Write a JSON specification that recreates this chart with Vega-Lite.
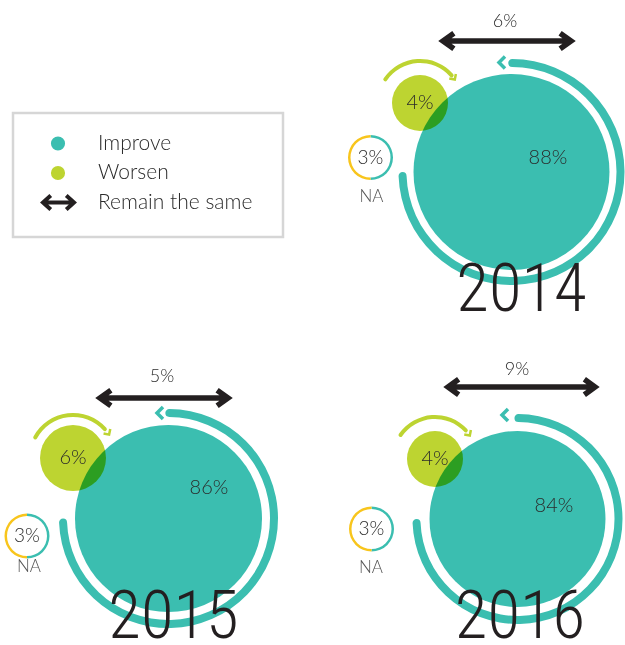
{
  "$schema": "https://vega.github.io/schema/vega-lite/v6.json",
  "padding": 0,
  "background": "white",
  "config": {"view": {"stroke": null}},
  "datasets": {
    "results": [
      {"year": "2014", "improve": 0.88, "worsen": 0.04, "same": 0.06, "na": 0.03},
      {"year": "2015", "improve": 0.86, "worsen": 0.06, "same": 0.05, "na": 0.03},
      {"year": "2016", "improve": 0.84, "worsen": 0.04, "same": 0.09, "na": 0.03}
    ],
    "legend": [
      {"item": "Improve"},
      {"item": "Worsen"},
      {"item": "Remain the same"}
    ]
  },
  "spacing": 0,
  "vconcat": [
    {
      "spacing": 0,
      "hconcat": [
        {
          "width": 340,
          "height": 345,
          "data": {"name": "legend"},
          "layer": [
            {
              "transform": [{"filter": {"field": "item", "equal": "Improve"}}],
              "mark": {"type": "point", "shape": "M-1,-0.4593L1,-0.4593L1,0.4593L-1,0.4593Z", "size": 72900, "filled": false, "stroke": "#d6d6d6", "strokeWidth": 2.5, "opacity": 1, "xOffset": -22, "yOffset": 2.5},
              "encoding": {}
            },
            {
              "transform": [{"filter": {"field": "item", "oneOf": ["Improve", "Worsen"]}}],
              "mark": {"type": "point", "shape": "circle", "filled": true, "size": 200, "opacity": 1, "xOffset": -112},
              "encoding": {
                "y": {"field": "item", "type": "nominal", "scale": {"domain": ["Improve", "Worsen", "Remain the same"], "range": [143.5, 202.5], "padding": 0}, "axis": null},
                "color": {"field": "item", "type": "nominal", "scale": {"domain": ["Improve", "Worsen"], "range": ["#3bbeb0", "#bdd431"]}, "legend": null}
              }
            },
            {
              "transform": [{"filter": {"field": "item", "equal": "Remain the same"}}],
              "mark": {"type": "point", "shape": "M-0.9,0L0.9,0M-0.5,-0.45L-1,0L-0.5,0.45M0.5,-0.45L1,0L0.5,0.45", "size": 961, "filled": false, "stroke": "#231f20", "strokeWidth": 4, "strokeJoin": "miter", "opacity": 1, "xOffset": -111.5},
              "encoding": {
                "y": {"field": "item", "type": "nominal", "scale": {"domain": ["Improve", "Worsen", "Remain the same"], "range": [143.5, 202.5], "padding": 0}, "axis": null}
              }
            },
            {
              "mark": {"type": "text", "align": "left", "baseline": "middle", "dx": -72, "font": "Lato", "fontWeight": 300, "fontSize": 21, "color": "#2b2b2b"},
              "encoding": {
                "y": {"field": "item", "type": "nominal", "scale": {"domain": ["Improve", "Worsen", "Remain the same"], "range": [143.5, 202.5], "padding": 0}, "axis": null},
                "text": {"field": "item"}
              }
            }
          ]
        },
        {
          "width": 285,
          "height": 345,
          "data": {"name": "results"},
          "transform": [{"filter": {"field": "year", "equal": "2014"}}],
          "layer": [
            {"mark": {"type": "arc", "color": "#3bbeb0", "outerRadius": 113, "innerRadius": 105, "theta": -0.03, "theta2": 4.712, "cornerRadius": 4, "xOffset": 29, "yOffset": -0.5}, "encoding": {}},
            {"mark": {"type": "arc", "color": "#3bbeb0", "outerRadius": 98, "theta": 0, "theta2": 6.2832, "xOffset": 29, "yOffset": -0.5}, "encoding": {}},
            {"mark": {"type": "point", "shape": "M1,-1L0,0L1,1", "size": 144, "filled": false, "stroke": "#3bbeb0", "strokeWidth": 3.5, "strokeJoin": "miter", "opacity": 1, "xOffset": 16.5, "yOffset": -110}, "encoding": {}},
            {"mark": {"type": "arc", "color": "#bdd431", "outerRadius": 28, "theta": 0, "theta2": 6.2832, "blend": "multiply", "xOffset": -62.5, "yOffset": -69.5}, "encoding": {}},
            {"mark": {"type": "arc", "color": "#bdd431", "outerRadius": 44, "innerRadius": 40, "theta": -1.02, "theta2": 0.9, "cornerRadius": 2, "xOffset": -62.5, "yOffset": -69.5}, "encoding": {}},
            {"mark": {"type": "point", "shape": "M-1,-1L0,0L-1,1", "size": 64, "angle": 56, "filled": false, "stroke": "#bdd431", "strokeWidth": 2.5, "opacity": 1, "xOffset": -27.7, "yOffset": -93}, "encoding": {}},
            {"mark": {"type": "arc", "color": "#3bbeb0", "outerRadius": 22.5, "innerRadius": 20, "theta": 0, "theta2": 3.1416, "xOffset": -112, "yOffset": -15}, "encoding": {}},
            {"mark": {"type": "arc", "color": "#f8c51c", "outerRadius": 22.5, "innerRadius": 20, "theta": 3.1416, "theta2": 6.2832, "xOffset": -112, "yOffset": -15}, "encoding": {}},
            {"mark": {"type": "point", "shape": "M-0.97,0L0.97,0M-0.83,-0.12L-1,0L-0.83,0.12M0.83,-0.12L1,0L0.83,0.12", "size": 16384, "filled": false, "stroke": "#231f20", "strokeWidth": 5.5, "strokeJoin": "miter", "opacity": 1, "xOffset": 24.5, "yOffset": -131.5}, "encoding": {}},
            {"mark": {"type": "text", "baseline": "middle", "font": "Lato", "fontWeight": 300, "fontSize": 18, "color": "#2b2b2b", "dx": 22.5, "dy": -150.5}, "encoding": {"text": {"field": "same", "type": "quantitative", "format": ".0%"}}},
            {"mark": {"type": "text", "baseline": "middle", "font": "Lato", "fontWeight": 300, "fontSize": 20, "color": "#2b2b2b", "dx": 65.5, "dy": -14.5}, "encoding": {"text": {"field": "improve", "type": "quantitative", "format": ".0%"}}},
            {"mark": {"type": "text", "baseline": "middle", "font": "Lato", "fontWeight": 300, "fontSize": 20, "color": "#2b2b2b", "dx": -62.5, "dy": -69.5}, "encoding": {"text": {"field": "worsen", "type": "quantitative", "format": ".0%"}}},
            {"mark": {"type": "text", "baseline": "middle", "font": "Lato", "fontWeight": 300, "fontSize": 19, "color": "#2b2b2b", "dx": -112, "dy": -15}, "encoding": {"text": {"field": "na", "type": "quantitative", "format": ".0%"}}},
            {"mark": {"type": "text", "baseline": "middle", "font": "Lato", "fontWeight": 300, "fontSize": 17, "color": "#555555", "dx": -111, "dy": 24.5}, "encoding": {"text": {"value": "NA"}}},
            {"mark": {"type": "text", "baseline": "alphabetic", "font": "'Roboto Condensed', 'Open Sans Condensed', 'Liberation Sans Narrow', 'DejaVu Sans Condensed', sans-serif", "fontWeight": 300, "fontSize": 67, "color": "#231f20", "dx": 39, "dy": 138.5}, "encoding": {"text": {"field": "year"}}}
          ]
        }
      ]
    },
    {
      "spacing": 0,
      "hconcat": [
        {
          "width": 340,
          "height": 300,
          "data": {"name": "results"},
          "transform": [{"filter": {"field": "year", "equal": "2015"}}],
          "layer": [
            {"mark": {"type": "arc", "color": "#3bbeb0", "outerRadius": 109.5, "innerRadius": 101.5, "theta": -0.03, "theta2": 4.712, "cornerRadius": 4, "xOffset": -1.5, "yOffset": 23.5}, "encoding": {}},
            {"mark": {"type": "arc", "color": "#3bbeb0", "outerRadius": 93.5, "theta": 0, "theta2": 6.2832, "xOffset": -1.5, "yOffset": 23.5}, "encoding": {}},
            {"mark": {"type": "point", "shape": "M1,-1L0,0L1,1", "size": 144, "filled": false, "stroke": "#3bbeb0", "strokeWidth": 3.5, "strokeJoin": "miter", "opacity": 1, "xOffset": -13, "yOffset": -82}, "encoding": {}},
            {"mark": {"type": "arc", "color": "#bdd431", "outerRadius": 33, "theta": 0, "theta2": 6.2832, "blend": "multiply", "xOffset": -97, "yOffset": -37}, "encoding": {}},
            {"mark": {"type": "arc", "color": "#bdd431", "outerRadius": 45, "innerRadius": 41, "theta": -1.12, "theta2": 0.88, "cornerRadius": 2, "xOffset": -97, "yOffset": -37}, "encoding": {}},
            {"mark": {"type": "point", "shape": "M-1,-1L0,0L-1,1", "size": 64, "angle": 57, "filled": false, "stroke": "#bdd431", "strokeWidth": 2.5, "opacity": 1, "xOffset": -60.9, "yOffset": -60.4}, "encoding": {}},
            {"mark": {"type": "arc", "color": "#3bbeb0", "outerRadius": 22.5, "innerRadius": 20, "theta": 0, "theta2": 3.1416, "xOffset": -143, "yOffset": 41}, "encoding": {}},
            {"mark": {"type": "arc", "color": "#f8c51c", "outerRadius": 22.5, "innerRadius": 20, "theta": 3.1416, "theta2": 6.2832, "xOffset": -143, "yOffset": 41}, "encoding": {}},
            {"mark": {"type": "point", "shape": "M-0.97,0L0.97,0M-0.83,-0.12L-1,0L-0.83,0.12M0.83,-0.12L1,0L0.83,0.12", "size": 16384, "filled": false, "stroke": "#231f20", "strokeWidth": 5.5, "strokeJoin": "miter", "opacity": 1, "xOffset": -6, "yOffset": -97}, "encoding": {}},
            {"mark": {"type": "text", "baseline": "middle", "font": "Lato", "fontWeight": 300, "fontSize": 18, "color": "#2b2b2b", "dx": -8, "dy": -118}, "encoding": {"text": {"field": "same", "type": "quantitative", "format": ".0%"}}},
            {"mark": {"type": "text", "baseline": "middle", "font": "Lato", "fontWeight": 300, "fontSize": 20, "color": "#2b2b2b", "dx": 39, "dy": -7}, "encoding": {"text": {"field": "improve", "type": "quantitative", "format": ".0%"}}},
            {"mark": {"type": "text", "baseline": "middle", "font": "Lato", "fontWeight": 300, "fontSize": 20, "color": "#2b2b2b", "dx": -97, "dy": -37}, "encoding": {"text": {"field": "worsen", "type": "quantitative", "format": ".0%"}}},
            {"mark": {"type": "text", "baseline": "middle", "font": "Lato", "fontWeight": 300, "fontSize": 19, "color": "#2b2b2b", "dx": -143, "dy": 41}, "encoding": {"text": {"field": "na", "type": "quantitative", "format": ".0%"}}},
            {"mark": {"type": "text", "baseline": "middle", "font": "Lato", "fontWeight": 300, "fontSize": 17, "color": "#555555", "dx": -141, "dy": 72}, "encoding": {"text": {"value": "NA"}}},
            {"mark": {"type": "text", "baseline": "alphabetic", "font": "'Roboto Condensed', 'Open Sans Condensed', 'Liberation Sans Narrow', 'DejaVu Sans Condensed', sans-serif", "fontWeight": 300, "fontSize": 67, "color": "#231f20", "dx": 3.5, "dy": 143}, "encoding": {"text": {"field": "year"}}}
          ]
        },
        {
          "width": 285,
          "height": 300,
          "data": {"name": "results"},
          "transform": [{"filter": {"field": "year", "equal": "2016"}}],
          "layer": [
            {"mark": {"type": "arc", "color": "#3bbeb0", "outerRadius": 105, "innerRadius": 97, "theta": -0.03, "theta2": 4.712, "cornerRadius": 4, "xOffset": 35, "yOffset": 24}, "encoding": {}},
            {"mark": {"type": "arc", "color": "#3bbeb0", "outerRadius": 88, "theta": 0, "theta2": 6.2832, "xOffset": 35, "yOffset": 24}, "encoding": {}},
            {"mark": {"type": "point", "shape": "M1,-1L0,0L1,1", "size": 144, "filled": false, "stroke": "#3bbeb0", "strokeWidth": 3.5, "strokeJoin": "miter", "opacity": 1, "xOffset": 19.5, "yOffset": -80}, "encoding": {}},
            {"mark": {"type": "arc", "color": "#bdd431", "outerRadius": 28, "theta": 0, "theta2": 6.2832, "blend": "multiply", "xOffset": -47.5, "yOffset": -36}, "encoding": {}},
            {"mark": {"type": "arc", "color": "#bdd431", "outerRadius": 44, "innerRadius": 40, "theta": -1.01, "theta2": 0.87, "cornerRadius": 2, "xOffset": -47.5, "yOffset": -36}, "encoding": {}},
            {"mark": {"type": "point", "shape": "M-1,-1L0,0L-1,1", "size": 64, "angle": 56, "filled": false, "stroke": "#bdd431", "strokeWidth": 2.5, "opacity": 1, "xOffset": -12.7, "yOffset": -59.5}, "encoding": {}},
            {"mark": {"type": "arc", "color": "#3bbeb0", "outerRadius": 22.5, "innerRadius": 20, "theta": 0, "theta2": 3.1416, "xOffset": -111, "yOffset": 34}, "encoding": {}},
            {"mark": {"type": "arc", "color": "#f8c51c", "outerRadius": 22.5, "innerRadius": 20, "theta": 3.1416, "theta2": 6.2832, "xOffset": -111, "yOffset": 34}, "encoding": {}},
            {"mark": {"type": "point", "shape": "M-0.975,0L0.975,0M-0.855,-0.105L-1,0L-0.855,0.105M0.855,-0.105L1,0L0.855,0.105", "size": 21609, "filled": false, "stroke": "#231f20", "strokeWidth": 5.5, "strokeJoin": "miter", "opacity": 1, "xOffset": 39, "yOffset": -108}, "encoding": {}},
            {"mark": {"type": "text", "baseline": "middle", "font": "Lato", "fontWeight": 300, "fontSize": 18, "color": "#2b2b2b", "dx": 34.5, "dy": -125}, "encoding": {"text": {"field": "same", "type": "quantitative", "format": ".0%"}}},
            {"mark": {"type": "text", "baseline": "middle", "font": "Lato", "fontWeight": 300, "fontSize": 20, "color": "#2b2b2b", "dx": 71.5, "dy": 11}, "encoding": {"text": {"field": "improve", "type": "quantitative", "format": ".0%"}}},
            {"mark": {"type": "text", "baseline": "middle", "font": "Lato", "fontWeight": 300, "fontSize": 20, "color": "#2b2b2b", "dx": -47.5, "dy": -36}, "encoding": {"text": {"field": "worsen", "type": "quantitative", "format": ".0%"}}},
            {"mark": {"type": "text", "baseline": "middle", "font": "Lato", "fontWeight": 300, "fontSize": 19, "color": "#2b2b2b", "dx": -111, "dy": 34}, "encoding": {"text": {"field": "na", "type": "quantitative", "format": ".0%"}}},
            {"mark": {"type": "text", "baseline": "middle", "font": "Lato", "fontWeight": 300, "fontSize": 17, "color": "#555555", "dx": -111.5, "dy": 73}, "encoding": {"text": {"value": "NA"}}},
            {"mark": {"type": "text", "baseline": "alphabetic", "font": "'Roboto Condensed', 'Open Sans Condensed', 'Liberation Sans Narrow', 'DejaVu Sans Condensed', sans-serif", "fontWeight": 300, "fontSize": 67, "color": "#231f20", "dx": 37.5, "dy": 143}, "encoding": {"text": {"field": "year"}}}
          ]
        }
      ]
    }
  ]
}
